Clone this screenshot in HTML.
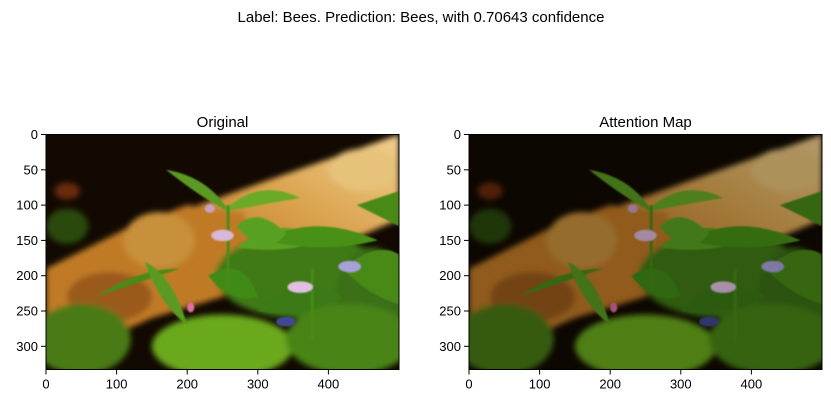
<!DOCTYPE html>
<html><head><meta charset="utf-8"><style>
body{margin:0;background:#fff;}
svg{display:block;font-family:"Liberation Sans","DejaVu Sans",sans-serif;}
</style></head><body>
<svg width="831" height="403" viewBox="0 0 831 403">
<defs>
<filter id="bl" x="-10%" y="-10%" width="120%" height="120%"><feGaussianBlur stdDeviation="4"/></filter>
<filter id="bl2"><feGaussianBlur stdDeviation="1.2"/></filter>
<clipPath id="imgclip"><rect x="0" y="0" width="500" height="333"/></clipPath>
<linearGradient id="logG" x1="0" y1="1" x2="1" y2="0">
<stop offset="0" stop-color="#b06a1a"/><stop offset="0.5" stop-color="#d9a04a"/><stop offset="1" stop-color="#f0d090"/></linearGradient>
<g id="photo" clip-path="url(#imgclip)">
<rect x="0" y="0" width="500" height="333" fill="#120a02"/>
<g filter="url(#bl)">
<ellipse cx="30" cy="80" rx="18" ry="12" fill="#6a2a0a"/>
<polygon points="160,120 300,70 500,0 500,120 430,150 300,170 200,190" fill="url(#logG)"/>
<polygon points="0,190 60,160 120,130 200,100 280,110 300,180 250,230 150,260 60,300 0,300" fill="#c07a28"/>
<ellipse cx="160" cy="150" rx="50" ry="40" fill="#c8903a"/>
<ellipse cx="450" cy="50" rx="50" ry="30" fill="#e6c27a"/>
<ellipse cx="90" cy="230" rx="60" ry="35" fill="#9a5a1a"/>
<ellipse cx="30" cy="130" rx="30" ry="25" fill="#2c4a10"/>
<ellipse cx="360" cy="200" rx="120" ry="60" fill="#3f7a14"/>
<ellipse cx="460" cy="230" rx="50" ry="70" fill="#3a7012"/>
<ellipse cx="50" cy="290" rx="70" ry="50" fill="#4a7a14"/>
<ellipse cx="250" cy="300" rx="100" ry="45" fill="#6aa81c"/>
<ellipse cx="430" cy="290" rx="90" ry="50" fill="#4a8414"/>
</g>
<g filter="url(#bl2)">
<path d="M170,50 Q230,60 260,110 Q220,90 170,50Z" fill="#5a9a20"/>
<path d="M250,110 Q300,60 360,90 Q300,100 250,110Z" fill="#6aaa28"/>
<path d="M70,230 Q130,190 190,190 Q130,210 70,230Z" fill="#4a8a18"/>
<path d="M270,160 Q330,110 390,150 Q340,170 270,160Z" fill="#5aa020"/>
<path d="M310,150 Q380,110 470,150 Q390,170 310,150Z" fill="#4a9018"/>
<path d="M300,250 Q360,190 420,230 Q370,260 300,250Z" fill="#3a7a14"/>
<path d="M420,190 Q470,150 500,170 L500,240 Q460,230 420,190Z" fill="#4a8a18"/>
<path d="M140,180 Q180,200 200,270 Q160,240 140,180Z" fill="#5a9a20"/>
<path d="M270,130 Q300,100 340,140 Q310,180 270,130Z" fill="#58a020"/>
<path d="M230,200 Q280,170 300,230 Q260,240 230,200Z" fill="#3f8a16"/>
<path d="M440,100 L500,80 L500,130Z" fill="#4a8a18"/>
<rect x="256" y="100" width="4" height="120" fill="#4a8a18"/>
<rect x="375" y="190" width="4" height="100" fill="#4a8a18"/>
<ellipse cx="250" cy="143" rx="16" ry="8" fill="#d8b8d8"/>
<ellipse cx="360" cy="216" rx="18" ry="8" fill="#e0c0e0"/>
<ellipse cx="430" cy="187" rx="16" ry="8" fill="#a8a0d8"/>
<ellipse cx="232" cy="105" rx="7" ry="6" fill="#c8a0c8"/>
<ellipse cx="205" cy="245" rx="5" ry="7" fill="#e070a0"/>
<ellipse cx="340" cy="265" rx="14" ry="7" fill="#404a90"/>
</g>
</g>
</defs>
<text x="421" y="22" text-anchor="middle" font-size="15">Label: Bees. Prediction: Bees, with 0.70643 confidence</text>

<g>
<text x="222.5" y="127" text-anchor="middle" font-size="15">Original</text>
<g transform="translate(46,134.5) scale(0.706)"><use href="#photo"/></g>
<rect x="46" y="134.5" width="353" height="235" fill="none" stroke="#000" stroke-width="1"/>
<g id="ticksL" font-size="13"></g>
</g>

<g>
<text x="645.5" y="127" text-anchor="middle" font-size="15">Attention Map</text>
<g transform="translate(469,134.5) scale(0.706)"><use href="#photo"/><rect width="500" height="333" fill="#000" opacity="0.25"/></g>
<rect x="469" y="134.5" width="353" height="235" fill="none" stroke="#000" stroke-width="1"/>
<g id="ticksR" font-size="13"></g>
</g>
<script>
const xTicks=[0,100,200,300,400];
const yTicks=[0,50,100,150,200,250,300];
const NS="http://www.w3.org/2000/svg";
function draw(id,x0,y0){
  const g=document.getElementById(id);
  const s=353/500;
  xTicks.forEach(v=>{
    const x=x0+v*s;
    const l=document.createElementNS(NS,'line');
    l.setAttribute('x1',x);l.setAttribute('x2',x);l.setAttribute('y1',y0+235);l.setAttribute('y2',y0+240);l.setAttribute('stroke','#000');
    
    
    g.appendChild(l);
    const t=document.createElementNS(NS,'text');
    t.setAttribute('x',x);t.setAttribute('y',y0+254);t.setAttribute('text-anchor','middle');t.textContent=v;
    
    
    g.appendChild(t);
  });
  yTicks.forEach(v=>{
    const y=y0+v*s;
    const l=document.createElementNS(NS,'line');
    l.setAttribute('x1',x0-5);l.setAttribute('x2',x0);l.setAttribute('y1',y);l.setAttribute('y2',y);l.setAttribute('stroke','#000');
    
    
    g.appendChild(l);
    const t=document.createElementNS(NS,'text');
    t.setAttribute('x',x0-8);t.setAttribute('y',y+4.5);t.setAttribute('text-anchor','end');t.textContent=v;
    
    
    g.appendChild(t);
  });
}
draw('ticksL',46,134.5);
draw('ticksR',469,134.5);
</script>
</svg>
</body></html>
